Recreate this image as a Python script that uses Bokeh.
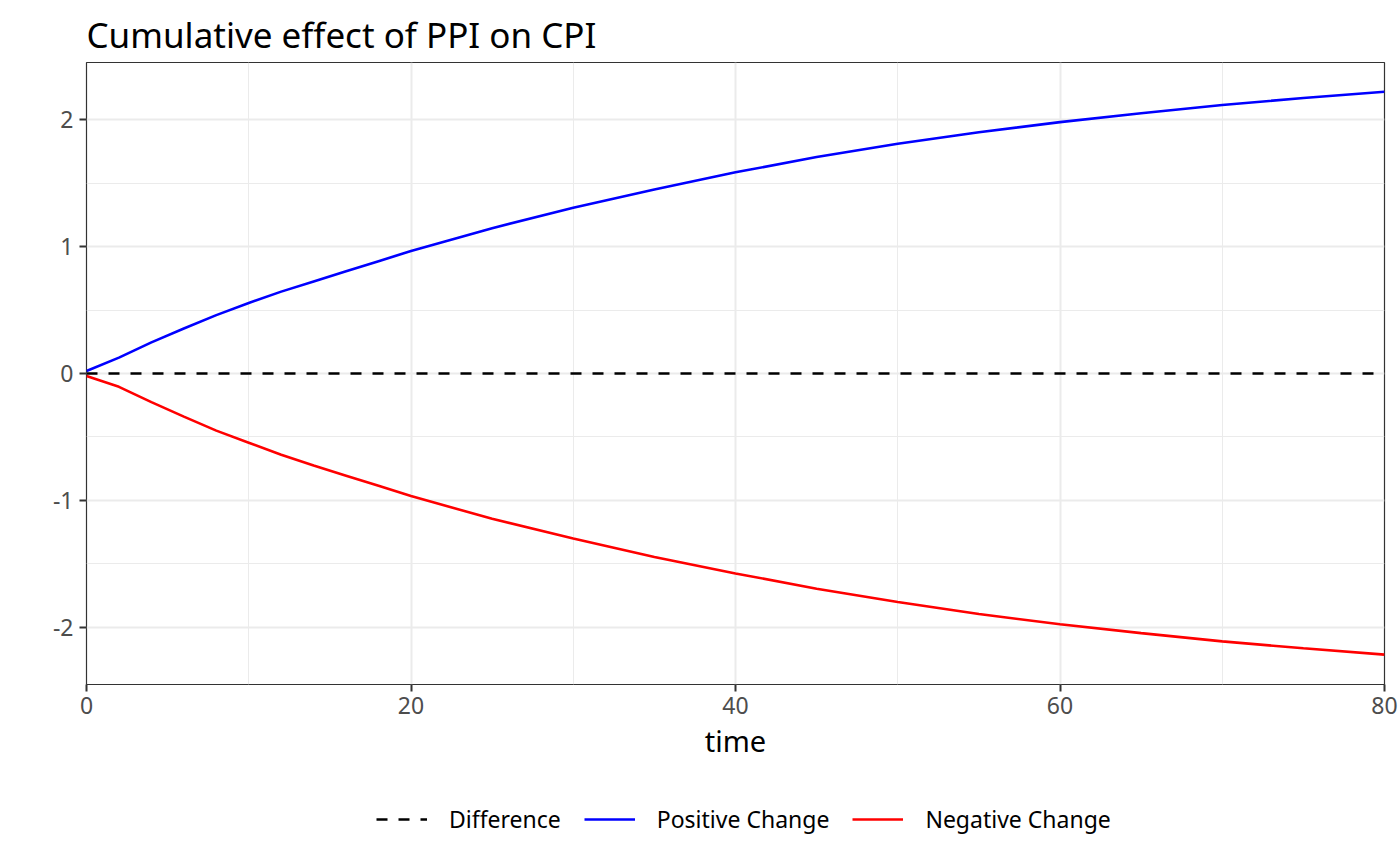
from bokeh.plotting import figure
from bokeh.layouts import column
from bokeh.models import Range1d, FixedTicker, Legend, LegendItem
from bokeh.embed import file_html
from bokeh.resources import INLINE

time = [0, 2, 4, 6, 8, 10, 12, 14, 16, 18, 20, 25, 30, 35, 40, 45, 50, 55, 60, 65, 70, 75, 80]
positive_change = [0.02, 0.125, 0.245, 0.355, 0.46, 0.555, 0.645, 0.725, 0.805, 0.885, 0.965,
                   1.145, 1.305, 1.45, 1.585, 1.705, 1.81, 1.90, 1.98, 2.05, 2.115, 2.17, 2.22]
negative_change = [-0.02, -0.105, -0.225, -0.34, -0.45, -0.545, -0.64, -0.725, -0.805, -0.885, -0.965,
                   -1.145, -1.30, -1.445, -1.575, -1.695, -1.80, -1.895, -1.975, -2.045, -2.11, -2.165, -2.215]
difference = [0.0] * 23

x_ticks = [0, 20, 40, 60, 80]
x_minor = [10, 30, 50, 70]
y_ticks = [-2, -1, 0, 1, 2]
y_minor = [-1.5, -0.5, 0.5, 1.5]
y_labels = {-2: "-2", -1: "-1", 0: "0", 1: "1", 2: "2"}
series_labels = ["Difference", "Positive Change", "Negative Change"]

FONT = "Noto Sans"
STYLES = [dict(line_color="black", line_width=2.4, line_dash="11 11"),
          dict(line_color="blue", line_width=2.6),
          dict(line_color="red", line_width=2.6)]

p = figure(width=1400, height=770, output_backend="svg", toolbar_location=None,
           x_range=Range1d(0, 80), y_range=Range1d(-2.45, 2.45),
           min_border_left=86, min_border_right=16, min_border_top=62, min_border_bottom=86,
           title="Cumulative effect of PPI on CPI")

p.title.text_font = FONT
p.title.text_font_size = "35px"
p.title.text_font_style = "normal"
p.title.text_color = "black"
p.title.align = "left"
p.title.vertical_align = "top"
p.title.standoff = 5
p.title.offset = 0

p.outline_line_color = "#333333"
p.outline_line_width = 1.2
p.background_fill_color = "white"
p.border_fill_color = "white"

for ax in (p.xaxis[0], p.yaxis[0]):
    ax.axis_line_color = None
    ax.major_tick_line_color = "#333333"
    ax.major_tick_line_width = 2
    ax.major_tick_in = 0
    ax.major_tick_out = 7
    ax.minor_tick_line_color = None
    ax.major_label_text_font = FONT
    ax.major_label_text_font_size = "23px"
    ax.major_label_text_color = "#4D4D4D"

p.xaxis[0].ticker = FixedTicker(ticks=x_ticks, minor_ticks=x_minor)
p.yaxis[0].ticker = FixedTicker(ticks=y_ticks, minor_ticks=y_minor)
p.yaxis[0].major_label_overrides = y_labels
p.xaxis[0].major_label_standoff = 5
p.yaxis[0].major_label_standoff = 6
p.xaxis[0].axis_label = "time"
p.xaxis[0].axis_label_text_font = FONT
p.xaxis[0].axis_label_text_font_size = "29px"
p.xaxis[0].axis_label_text_font_style = "normal"
p.xaxis[0].axis_label_text_color = "black"
p.xaxis[0].axis_label_standoff = 4

for g in (p.xgrid[0], p.ygrid[0]):
    g.grid_line_color = "#EBEBEB"
    g.grid_line_width = 2
    g.minor_grid_line_color = "#EBEBEB"
    g.minor_grid_line_width = 1
p.xgrid[0].ticker = FixedTicker(ticks=x_ticks, minor_ticks=x_minor)
p.ygrid[0].ticker = FixedTicker(ticks=y_ticks, minor_ticks=y_minor)

p.line(time, difference, **STYLES[0])
p.line(time, positive_change, **STYLES[1])
p.line(time, negative_change, **STYLES[2])

# legend strip below the chart (its lines lie outside its own range, only the keys show)
lg = figure(width=1400, height=96, output_backend="svg", toolbar_location=None,
            x_range=Range1d(0, 1), y_range=Range1d(0, 1),
            min_border_left=0, min_border_right=0, min_border_top=0, min_border_bottom=0)
lg.axis.visible = False
lg.grid.visible = False
lg.outline_line_color = None
lg.background_fill_color = "white"
lg.border_fill_color = "white"
items = []
for lab, st in zip(series_labels, STYLES):
    r = lg.line([5, 6], [5, 6], **st)
    items.append(LegendItem(label=lab, renderers=[r]))

legend = Legend(items=items, orientation="horizontal", location=(290, 31))
legend.border_line_color = None
legend.background_fill_alpha = 0
legend.label_text_font = FONT
legend.label_text_font_size = "23px"
legend.label_text_color = "black"
legend.glyph_width = 51
legend.glyph_height = 24
legend.label_standoff = 22
legend.spacing = 23
legend.padding = 0
legend.margin = 0
lg.add_layout(legend, "center")

layout = column(p, lg, spacing=0)
open("out.html", "w").write(file_html(layout, INLINE))
